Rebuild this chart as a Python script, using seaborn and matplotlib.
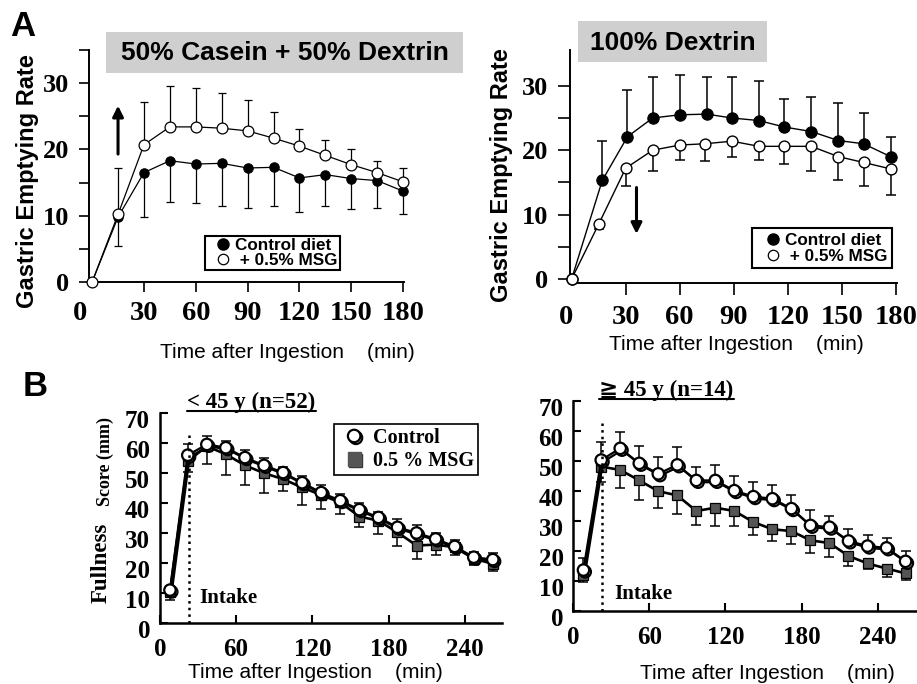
import numpy as np
import pandas as pd
import seaborn as sns
import matplotlib
matplotlib.use("Agg")
import matplotlib.pyplot as plt
import matplotlib.patheffects as pe
from matplotlib.transforms import ScaledTranslation
from matplotlib.lines import Line2D
from matplotlib.patches import Rectangle

# ---------------- data ----------------
# Panel A left: 50% Casein + 50% Dextrin
t_al = [0, 15, 30, 45, 60, 75, 90, 105, 120, 135, 150, 165, 180]
ctrl_al = [0, 9.8, 16.5, 18.3, 17.8, 17.9, 17.2, 17.3, 15.7, 16.2, 15.6, 15.3, 13.7]
ctrl_al_err = [0, 4.4, 6.7, 6.3, 5.9, 6.5, 6.1, 5.9, 5.1, 4.7, 4.6, 4.2, 3.4]
msg_al = [0, 10.2, 20.7, 23.4, 23.4, 23.2, 22.8, 21.7, 20.5, 19.1, 17.7, 16.5, 15.1]
msg_al_err = [0, 7.0, 6.5, 6.2, 5.8, 5.3, 4.6, 4.0, 2.6, 2.3, 2.4, 1.8, 2.1]

# Panel A right: 100% Dextrin
t_ar_c = [0, 17, 31, 45, 60, 75, 89, 104, 118, 133, 148, 162, 177]
ctrl_ar = [0, 15.3, 22.1, 25.0, 25.5, 25.6, 25.0, 24.6, 23.6, 22.9, 21.5, 21.0, 19.0]
ctrl_ar_err = [0, 6.1, 7.2, 6.3, 6.2, 5.7, 6.3, 6.2, 4.4, 5.3, 5.9, 4.8, 3.1]
t_ar_m = [0, 15, 30, 45, 60, 74, 89, 104, 118, 133, 148, 162, 177]
msg_ar = [0, 8.5, 17.2, 20.0, 20.8, 21.0, 21.4, 20.6, 20.6, 20.6, 19.0, 18.1, 17.1]
msg_ar_err = [0, 0.8, 2.7, 3.3, 2.3, 2.7, 2.5, 2.1, 2.7, 3.9, 3.7, 3.6, 4.0]

# Panel B: fullness score
t_b = [8, 22, 37, 52, 67, 82, 97, 112, 127, 142, 157, 172, 187, 202, 217, 232, 247, 262]
ctrl_bl = [10.9, 56.0, 59.6, 58.5, 55.2, 52.6, 50.2, 46.8, 43.5, 40.8, 37.8, 35.2, 31.9, 30.0, 28.0, 25.5, 21.9, 21.1]
ctrl_bl_err = [1.0, 3.6, 2.8, 2.2, 2.4, 2.4, 2.0, 2.3, 2.5, 2.2, 2.1, 1.9, 2.6, 2.5, 1.9, 2.2, 1.7, 2.3]
msg_bl = [10.3, 54.0, 59.0, 56.3, 52.6, 50.0, 48.0, 45.2, 42.7, 40.2, 35.5, 34.1, 30.2, 25.8, 26.1, 25.2, 21.4, 19.7]
msg_bl_err = [2.6, 3.5, 5.8, 6.9, 6.5, 6.8, 4.1, 5.8, 4.7, 3.9, 3.6, 4.4, 4.4, 4.4, 3.6, 2.5, 2.2, 2.4]

ctrl_br = [13.5, 50.2, 54.1, 49.1, 45.6, 48.6, 43.4, 43.4, 40.0, 38.0, 37.3, 34.0, 28.4, 27.8, 23.2, 21.5, 20.9, 16.4]
ctrl_br_err = [4.1, 5.9, 5.3, 5.7, 5.5, 5.8, 4.6, 5.2, 4.8, 4.8, 4.6, 4.4, 5.0, 3.7, 3.9, 3.6, 3.4, 3.5]
msg_br = [12.0, 48.0, 46.9, 43.4, 39.8, 38.4, 33.2, 34.3, 33.2, 29.5, 27.1, 26.5, 23.4, 22.5, 18.2, 15.7, 14.0, 12.4]
msg_br_err = [2.4, 5.0, 6.0, 6.4, 5.6, 6.1, 4.6, 6.1, 5.0, 4.4, 3.9, 4.4, 4.2, 4.6, 3.3, 1.7, 2.8, 2.3]

intake_time = 23

xt_a = [0, 30, 60, 90, 120, 150, 180]
yt_a = [0, 10, 20, 30]
xt_b = [0, 60, 120, 180, 240]
yt_b = [0, 10, 20, 30, 40, 50, 60, 70]

xlabel = "Time after Ingestion    (min)"

# ---------------- style ----------------
sns.set_theme(style="ticks")
plt.rcParams["font.family"] = ["Liberation Sans", "DejaVu Sans"]
SERIF = ["Liberation Serif", "DejaVu Serif", "DejaVu Sans", "Noto Sans CJK JP"]
SANS = ["Liberation Sans", "DejaVu Sans"]

W, H = 917, 684
fig = plt.figure(figsize=(W / 100, H / 100), dpi=100)
fig.patch.set_facecolor("white")


def ax_at(x0, x1, ytop, ybot):
    return fig.add_axes([x0 / W, 1 - ybot / H, (x1 - x0) / W, (ybot - ytop) / H])


def px(dx, dy):
    return ScaledTranslation(dx / 100, dy / 100, fig.dpi_scale_trans)


def style_ticklabels(ax, size_x, size_y):
    for lab in ax.get_xticklabels():
        lab.set_fontfamily(SERIF)
        lab.set_fontweight("bold")
        lab.set_fontsize(size_x)
    for lab in ax.get_yticklabels():
        lab.set_fontfamily(SERIF)
        lab.set_fontweight("bold")
        lab.set_fontsize(size_y)


def line(ax, x, y, **kw):
    sns.lineplot(x=x, y=y, ax=ax, errorbar=None, clip_on=False, **kw)
    return ax.lines[-1]


# ================= Panel A left =================
axA1 = ax_at(89, 404, 50, 282)
axA1.set_xlim(-1.8, 180.5)
axA1.set_ylim(0, 35)
z = np.zeros(len(t_al))
axA1.errorbar(t_al, ctrl_al, yerr=[ctrl_al_err, z], fmt="none", ecolor="black",
              elinewidth=0.9, capsize=3, capthick=0.9, zorder=2, clip_on=False)
axA1.errorbar(t_al, msg_al, yerr=[z, msg_al_err], fmt="none", ecolor="black",
              elinewidth=0.9, capsize=3, capthick=0.9, zorder=2, clip_on=False)
line(axA1, t_al, ctrl_al, color="black", lw=0.9, marker="o", markersize=6.8,
     markerfacecolor="black", markeredgecolor="black", zorder=4)
line(axA1, t_al, msg_al, color="black", lw=0.9, marker="o", markersize=7.8,
     markerfacecolor="white", markeredgecolor="black", markeredgewidth=0.9, zorder=5)

# ================= Panel A right =================
axA2 = ax_at(570, 896.5, 50, 283.3)
axA2.set_xlim(-0.9, 180.3)
axA2.set_ylim(-0.67, 35.56)
z = np.zeros(len(t_ar_c))
axA2.errorbar(t_ar_c, ctrl_ar, yerr=[z, ctrl_ar_err], fmt="none", ecolor="black",
              elinewidth=1.1, capsize=3.5, capthick=1.1, zorder=2, clip_on=False)
axA2.errorbar(t_ar_m, msg_ar, yerr=[msg_ar_err, z], fmt="none", ecolor="black",
              elinewidth=1.1, capsize=3.5, capthick=1.1, zorder=2, clip_on=False)
line(axA2, t_ar_c, ctrl_ar, color="black", lw=1.0, marker="o", markersize=8.2,
     markerfacecolor="black", markeredgecolor="black", zorder=4)
line(axA2, t_ar_m, msg_ar, color="black", lw=1.0, marker="o", markersize=7.8,
     markerfacecolor="white", markeredgecolor="black", markeredgewidth=1.0, zorder=5)

for ax, tl in ((axA1, 7), (axA2, 8.5)):
    sns.despine(ax=ax)
    for s in ("left", "bottom"):
        ax.spines[s].set_linewidth(1.4)
        ax.spines[s].set_color("black")
    ax.set_xticks(xt_a)
    ax.set_yticks(yt_a)
    ax.tick_params(axis="both", which="both", direction="out", length=tl, width=1.2,
                   color="black", labelcolor="black", pad=7)
    ax.set_facecolor("none")
    ax.xaxis.get_major_ticks()[0].tick1line.set_visible(False)
    style_ticklabels(ax, 20.5, 19)
axA1.set_yticks([5, 15, 25, 35], minor=True)
axA2.set_yticks([5, 15, 25], minor=True)
lab0 = axA1.get_xticklabels()[0]
lab0.set_transform(lab0.get_transform() + px(-12, 0))
lab0 = axA2.get_xticklabels()[0]
lab0.set_transform(lab0.get_transform() + px(-6, 0))

# labels A
for ax, xc, yc in ((axA1, 0.629, -0.302), (axA2, 0.511, -0.264)):
    ax.set_xlabel(xlabel, fontsize=15, fontfamily=SANS, color="black")
    ax.xaxis.label.set_va("center")
    ax.xaxis.set_label_coords(xc, yc)
for ax, xc, yc in ((axA1, -0.194, 0.435), (axA2, -0.211, 0.465)):
    ax.set_ylabel("Gastric Emptying Rate", fontsize=17, fontweight="bold",
                  fontfamily=SANS, color="black")
    ax.yaxis.label.set_va("center")
    ax.yaxis.set_label_coords(xc, yc)

# arrows
axA1.annotate("", xy=(15, 26.6), xytext=(15, 19.3),
              arrowprops=dict(arrowstyle="-|>", lw=2.2, color="black", mutation_scale=16,
                              shrinkA=0, shrinkB=0))
axA2.annotate("", xy=(36, 7.0), xytext=(36, 14.2),
              arrowprops=dict(arrowstyle="-|>", lw=2.2, color="black", mutation_scale=16,
                              shrinkA=0, shrinkB=0))

# legends A
def a_legend(ax, x0, y0, fs, bp, ls):
    h = [Line2D([], [], ls="none", marker="o", ms=8, mfc="black", mec="black"),
         Line2D([], [], ls="none", marker="o", ms=7.5, mfc="white", mec="black", mew=0.9)]
    leg = ax.legend(h, ["Control diet", " + 0.5% MSG"], loc="upper left",
                    bbox_to_anchor=(x0 / W, 1 - y0 / H), bbox_transform=fig.transFigure,
                    borderaxespad=0, frameon=True, fancybox=False, framealpha=1,
                    edgecolor="black", borderpad=bp, labelspacing=ls,
                    handlelength=1.85, handletextpad=-0.2,
                    prop=dict(family=SANS, weight="bold", size=fs))
    leg.get_frame().set_linewidth(1.5)
    for t in leg.get_texts():
        t.set_color("black")
    return leg

a_legend(axA1, 205, 236, 12.3, 0.12, 0.0)
a_legend(axA2, 752, 228, 12.3, 0.28, 0.05)

# title boxes
for (x0, x1, y0, y1, txt) in ((106, 463, 32, 73, "50% Casein + 50% Dextrin"),
                              (578, 767, 21, 62, "100% Dextrin")):
    fig.patches.append(Rectangle((x0 / W, 1 - y1 / H), (x1 - x0) / W, (y1 - y0) / H,
                                 transform=fig.transFigure, facecolor="#cfcfcf",
                                 edgecolor="none", zorder=0))
    fig.text((x0 + x1) / 2 / W, 1 - ((y0 + y1) / 2 + 1) / H, txt, ha="center", va="center",
             fontsize=19, fontweight="bold", fontfamily=SANS, color="black")

fig.text(23 / W, 1 - 26 / H, "A", ha="center", va="center", fontsize=25,
         fontweight="bold", fontfamily=SANS, color="black")
fig.text(35 / W, 1 - 386 / H, "B", ha="center", va="center", fontsize=25,
         fontweight="bold", fontfamily=SANS, color="black")

# ================= Panel B =================
axB1 = ax_at(159.8, 501.7, 413.3, 622.7)
axB1.set_xlim(0, 269)
axB2 = ax_at(573.3, 915.7, 400.7, 610.5)
axB2.set_xlim(0, 270)

shadow = [pe.SimpleLineShadow(offset=(1.3, -1.3), shadow_color="black", alpha=1.0, rho=1.0),
          pe.Normal()]

for ax, c, ce, m, me in ((axB1, ctrl_bl, ctrl_bl_err, msg_bl, msg_bl_err),
                         (axB2, ctrl_br, ctrl_br_err, msg_br, msg_br_err)):
    ax.set_ylim(0, 70)
    z = np.zeros(len(t_b))
    ax.errorbar(t_b, m, yerr=[me, z], fmt="none", ecolor="black", elinewidth=1.1,
                capsize=3.5, capthick=1.1, zorder=2, clip_on=False)
    line(ax, t_b, m, color="black", lw=1.9, marker="s", markersize=7.2,
         markerfacecolor="#555555", markeredgecolor="black", markeredgewidth=0.9, zorder=3)
    ax.errorbar(t_b, c, yerr=[z, ce], fmt="none", ecolor="black", elinewidth=1.1,
                capsize=3.5, capthick=1.1, zorder=4, clip_on=False)
    ln = line(ax, t_b, c, color="black", lw=1.6, marker="o", markersize=8.2,
              markerfacecolor="white", markeredgecolor="black", markeredgewidth=1.6, zorder=5)
    ln.set_path_effects(shadow)

    sns.despine(ax=ax)
    for s in ("left", "bottom"):
        ax.spines[s].set_linewidth(1.8)
        ax.spines[s].set_color("black")
    ax.set_xticks(xt_b)
    ax.set_yticks(yt_b)
    ax.tick_params(axis="both", direction="in", length=5.5, width=1.5, color="black",
                   labelcolor="black")
    ax.tick_params(axis="x", pad=11)
    ax.tick_params(axis="y", pad=7)
    ax.set_facecolor("none")
    style_ticklabels(ax, 18, 18)
    for lab in ax.get_yticklabels():
        lab.set_transform(lab.get_transform() + px(0, -6))

axB1.vlines(intake_time, 0, 63, colors="black", linestyles=":", lw=1.8, zorder=6)
axB2.vlines(intake_time, 0, 62.7, colors="black", linestyles=":", lw=1.8, zorder=6)
axB1.text(31, 8.2, "Intake", ha="left", va="center", fontsize=15, fontweight="bold",
          fontfamily=SERIF, color="black")
axB2.text(32, 5.5, "Intake", ha="left", va="center", fontsize=15, fontweight="bold",
          fontfamily=SERIF, color="black")

for ax, xc, yc in ((axB1, 0.454, -0.240), (axB2, 0.567, -0.298)):
    ax.set_xlabel(xlabel, fontsize=15, fontfamily=SANS, color="black")
    ax.xaxis.label.set_va("center")
    ax.xaxis.set_label_coords(xc, yc)

axB1.set_ylabel("Fullness", fontsize=16.5, fontweight="bold", fontfamily=SERIF, color="black")
axB1.yaxis.label.set_va("center")
axB1.yaxis.set_label_coords(-0.1705, 0.2875)
axB1.text(-0.159, 0.770, "Score (mm)", rotation=90, ha="center", va="center",
          transform=axB1.transAxes, fontsize=13, fontweight="bold", fontfamily=SERIF,
          color="black")

# subtitles with underline
subs = []
subs.append(axB1.text(0.268, 1.024, "< 45 y (n=52)", ha="center", va="baseline",
                      transform=axB1.transAxes, fontsize=16.5, fontweight="bold",
                      fontfamily=SERIF, color="black"))
subs.append(axB2.text(0.272, 1.0224, "\u2267 45 y (n=14)", ha="center", va="baseline",
                      transform=axB2.transAxes, fontsize=16.5, fontweight="bold",
                      fontfamily=SERIF, color="black"))

# legend B
hB = [Line2D([], [], ls="none", marker="o", ms=9, mfc="white", mec="black", mew=1.6,
             path_effects=shadow),
      Line2D([], [], ls="none", marker="s", ms=9.5, mfc="#555555", mec="#555555",
             path_effects=[pe.SimpleLineShadow(offset=(1.2, -1.2), shadow_color="#333333",
                                               alpha=1.0, rho=1.0), pe.Normal()])]
legB = axB1.legend(hB, ["Control", "0.5 % MSG"], loc="upper left",
                   bbox_to_anchor=(334 / W, 1 - 424 / H), bbox_transform=fig.transFigure,
                   borderaxespad=0, frameon=True, fancybox=False, framealpha=1,
                   edgecolor="black", borderpad=0.2, labelspacing=0.15,
                   handlelength=1.6, handletextpad=0.15,
                   prop=dict(family=SERIF, weight="bold", size=14.5))
legB.get_frame().set_linewidth(1.2)
for t in legB.get_texts():
    t.set_color("black")

fig.canvas.draw()
r = fig.canvas.get_renderer()
for t in subs:
    bb = t.get_window_extent(renderer=r)
    xb, yb = t.get_transform().transform(t.get_position())
    yl = (yb - 2.5) / H
    fig.lines.append(Line2D([bb.x0 / W, bb.x1 / W], [yl, yl], transform=fig.transFigure,
                            color="black", lw=1.5))

fig.savefig("out.png", dpi=100, facecolor="white")
